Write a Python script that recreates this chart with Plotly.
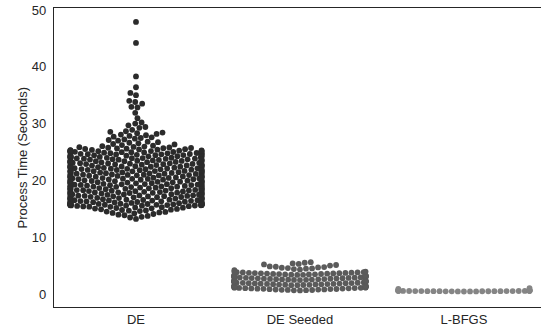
import numpy as np
import plotly.graph_objects as go

# ---------------- data ----------------
categories = ["DE", "DE Seeded", "L-BFGS"]

de_low_tail = [13.21, 13.47, 13.58, 13.74, 13.86, 13.97, 14.08, 14.19, 14.27, 14.36,
               14.44, 14.51, 14.59, 14.66, 14.72, 14.79, 14.85, 14.91, 14.97, 15.03,
               15.08, 15.14, 15.19, 15.24, 15.29, 15.34, 15.38, 15.42, 15.46, 15.5]

de_core = [
    15.55, 15.57, 15.58, 15.6, 15.61, 15.63, 15.64, 15.66, 15.67, 15.69, 15.7, 15.71, 15.73, 15.74,
    15.76, 15.77, 15.79, 15.8, 15.82, 15.84, 15.85, 15.87, 15.89, 15.9, 15.92, 15.94, 15.96, 15.98,
    16.01, 16.04, 16.06, 16.09, 16.12, 16.15, 16.17, 16.2, 16.24, 16.27, 16.29, 16.32, 16.36, 16.38,
    16.41, 16.44, 16.47, 16.5, 16.52, 16.55, 16.59, 16.61, 16.64, 16.68, 16.7, 16.73, 16.76, 16.79,
    16.82, 16.85, 16.88, 16.91, 16.93, 16.96, 16.99,
    17.02, 17.05, 17.08, 17.1, 17.13, 17.17, 17.19, 17.22, 17.26, 17.28, 17.31, 17.35, 17.37, 17.4,
    17.43, 17.46, 17.49, 17.52, 17.54, 17.58, 17.61, 17.63, 17.66, 17.7, 17.72, 17.75, 17.78, 17.81,
    17.84, 17.87, 17.9, 17.92, 17.95, 17.98,
    18.01, 18.03, 18.06, 18.1, 18.12, 18.15, 18.18, 18.21, 18.24, 18.27, 18.3, 18.33, 18.35, 18.39,
    18.42, 18.44, 18.47, 18.51, 18.53, 18.56, 18.6, 18.62, 18.65, 18.68, 18.71, 18.74, 18.77, 18.8,
    18.83, 18.86, 18.89, 18.91, 18.94, 18.97,
    19.0, 19.03, 19.07, 19.09, 19.12, 19.16, 19.18, 19.21, 19.25, 19.27, 19.3, 19.34, 19.36, 19.39,
    19.42, 19.45, 19.48, 19.5, 19.54, 19.57, 19.59, 19.62, 19.66, 19.69, 19.71, 19.74, 19.78, 19.8,
    19.83, 19.86, 19.89, 19.92, 19.95, 19.98,
    20.02, 20.05, 20.07, 20.11, 20.13, 20.16, 20.2, 20.22, 20.25, 20.28, 20.31, 20.34, 20.37, 20.4,
    20.43, 20.46, 20.48, 20.52, 20.55, 20.57, 20.61, 20.64, 20.66, 20.69, 20.73, 20.75, 20.78, 20.82,
    20.84, 20.87, 20.9, 20.93, 20.96, 20.99,
    21.01, 21.04, 21.08, 21.1, 21.14, 21.17, 21.19, 21.23, 21.26, 21.28, 21.32, 21.35, 21.37, 21.41,
    21.44, 21.46, 21.5, 21.53, 21.55, 21.59, 21.62, 21.64, 21.67, 21.71, 21.73, 21.76, 21.8, 21.83,
    21.85, 21.88, 21.91, 21.94, 21.97,
    22.0, 22.03, 22.06, 22.09, 22.12, 22.15, 22.18, 22.22, 22.24, 22.27, 22.31, 22.33, 22.36, 22.4,
    22.42, 22.45, 22.49, 22.51, 22.54, 22.58, 22.6, 22.63, 22.67, 22.69, 22.72, 22.76, 22.78, 22.81,
    22.85, 22.87, 22.9, 22.94, 22.97,
    23.01, 23.03, 23.07, 23.1, 23.12, 23.16, 23.19, 23.21, 23.25, 23.28, 23.3, 23.34, 23.37, 23.39,
    23.43, 23.46, 23.48, 23.52, 23.55, 23.57, 23.61, 23.64, 23.66, 23.7, 23.73, 23.75, 23.79, 23.82,
    23.84, 23.88, 23.91, 23.93, 23.97, 23.99,
    24.02, 24.04, 24.08, 24.1, 24.14, 24.16, 24.2, 24.23, 24.25, 24.29, 24.31, 24.35, 24.37, 24.41,
    24.44, 24.46, 24.5, 24.52, 24.56, 24.59, 24.61, 24.65, 24.67, 24.71, 24.74, 24.76, 24.8, 24.82,
    24.86, 24.88, 24.92, 24.95, 24.97,
    25.0, 25.03, 25.05, 25.08, 25.11, 25.13, 25.16, 25.19, 25.21, 25.24, 25.27, 25.3, 25.33, 25.36, 25.4,
]

de_high_tail = [25.45, 25.5, 25.53, 25.58, 25.62, 25.66, 25.7, 25.75, 25.79, 25.84, 25.9, 25.95,
                26.02, 26.12, 26.21, 26.33, 26.41, 26.52, 26.63, 26.72, 26.81,
                27.0, 27.11, 27.22, 27.35, 27.46, 27.58, 27.7,
                27.82, 27.95, 28.06, 28.18, 28.3, 28.42,
                28.55, 28.65, 28.9, 29.25, 29.4, 29.7, 30.0, 30.2, 30.95, 31.9, 32.85, 32.95,
                33.5, 33.8, 34.0, 35.0, 35.4, 36.4, 38.3, 44.2, 47.9]

seeded_core = [0.62, 0.65, 0.67, 0.7, 0.72, 0.74, 0.77, 0.79, 0.81, 0.84, 0.86, 0.88, 0.91, 0.93,
               0.95, 0.98, 1.0, 1.02, 1.05, 1.07, 1.09, 1.12, 1.14, 1.16, 1.19, 1.21, 1.23, 1.26,
               1.28, 1.3, 1.33, 1.35, 1.37, 1.4, 1.42, 1.44, 1.47, 1.49, 1.51, 1.54, 1.56, 1.58,
               1.61, 1.63, 1.65, 1.68, 1.7, 1.72, 1.75, 1.77, 1.79, 1.82, 1.84, 1.86, 1.89, 1.91,
               1.93, 1.96, 1.98, 2.0, 2.03, 2.05, 2.07, 2.1, 2.12, 2.14, 2.17, 2.19, 2.21, 2.24,
               2.26, 2.28, 2.31, 2.33, 2.35, 2.38, 2.4, 2.42, 2.45, 2.47, 2.49, 2.52, 2.54, 2.56,
               2.59, 2.61, 2.63, 2.66, 2.68, 2.7, 2.73, 2.75, 2.77, 2.8, 2.82, 2.84, 2.87, 2.89,
               2.91, 2.94, 2.96, 2.98, 3.01, 3.03, 3.05, 3.08, 3.1, 3.12, 3.15, 3.17, 3.19, 3.22,
               3.24, 3.26, 3.29, 3.31, 3.33, 3.36, 3.38, 3.4, 3.43, 3.45, 3.47, 3.5, 3.52, 3.54,
               3.57, 3.59, 3.61, 3.64, 3.66, 3.68, 3.71, 3.73, 3.75, 3.78, 3.8, 3.83, 3.86, 3.9, 3.95]
seeded_top = [4.2, 4.3, 4.38, 4.45, 4.5, 4.56, 4.62, 4.68, 4.74, 4.8, 4.86,
              5.0, 5.1, 5.2, 5.3, 5.38, 5.5, 5.6]

lbfgs = [0.44, 0.45, 0.46, 0.46, 0.47, 0.47, 0.48, 0.48, 0.49, 0.49, 0.5, 0.5, 0.5, 0.51,
         0.51, 0.52, 0.52, 0.53, 0.53, 0.54, 0.54, 0.55, 0.55, 0.56, 0.57, 0.58, 0.59, 0.6,
         0.62, 0.65, 0.7, 0.78, 0.9, 1.05]

series = [de_low_tail + de_core + de_high_tail, seeded_core + seeded_top, lbfgs]
colors = ["#2b2b2b", "#5b5b5b", "#858585"]
y_ticks = [0, 10, 20, 30, 40, 50]

# ---------------- layout geometry ----------------
W, H = 541, 326
ML, MR, MT, MB = 54, 0, 8, 19
XR = [-0.5, 2.47]
YR = [-2.29, 50.35]
MARKER = 5.8

pw = W - ML - MR
ph = H - MT - MB
sx = pw / (XR[1] - XR[0])
sy = ph / (YR[1] - YR[0])


def swarm(values, r, half_width):
    vals = np.sort(np.asarray(values, dtype=float))
    ys = vals * sy
    placed_x = [0.0]
    placed_y = [ys[0]]
    for y in ys[1:]:
        nx, ny = [], []
        for xj, yj in zip(reversed(placed_x), reversed(placed_y)):
            if y - yj < 2 * r:
                nx.append(xj)
                ny.append(yj)
            else:
                break
        cands = [0.0]
        left_first = True
        for xj, yj in zip(nx, ny):
            dy = y - yj
            dx = np.sqrt(max(4 * r * r - dy * dy, 0.0)) * 1.05
            if left_first:
                cands += [xj - dx, xj + dx]
            else:
                cands += [xj + dx, xj - dx]
            left_first = not left_first
        cands = sorted(cands, key=abs)
        chosen = cands[0]
        if nx:
            ax = np.array(nx)
            ay = np.array(ny)
            for c in cands:
                if np.all((ax - c) ** 2 + (ay - y) ** 2 >= 4 * r * r - 1e-9):
                    chosen = c
                    break
        placed_x.append(chosen)
        placed_y.append(y)
    offs = np.clip(np.array(placed_x), -half_width, half_width)
    return vals, offs


fig = go.Figure()
for i, (cat, vals) in enumerate(zip(categories, series)):
    v, off = swarm(vals, MARKER / 2, 0.4 * sx)
    fig.add_trace(go.Scatter(
        x=i + off / sx, y=v, mode="markers", name=cat,
        marker=dict(size=MARKER, color=colors[i], line=dict(width=0)),
        hoverinfo="skip", showlegend=False,
    ))

font = dict(family="Liberation Sans, Arial, sans-serif", size=13, color="#262626")
fig.update_layout(
    width=W, height=H,
    margin=dict(l=ML, r=MR, t=MT, b=MB, pad=0),
    paper_bgcolor="white", plot_bgcolor="white",
    font=font,
    xaxis=dict(range=XR, tickmode="array", tickvals=list(range(len(categories))),
               ticktext=categories, showgrid=False, zeroline=False,
               showline=True, mirror=True, linecolor="#262626", linewidth=1.25,
               ticks="", automargin=False, fixedrange=True),
    yaxis=dict(range=YR, tickmode="array", tickvals=y_ticks,
               showgrid=False, zeroline=False,
               showline=True, linecolor="#262626", linewidth=1.25,
               ticks="outside", ticklen=4, tickcolor="rgba(0,0,0,0)",
               automargin=False, fixedrange=True),
    annotations=[dict(text="Process Time (Seconds)", xref="paper", yref="paper",
                      x=0, y=0.5, xshift=-32, xanchor="center", yanchor="middle",
                      textangle=-90, showarrow=False, font=font)],
)

fig.write_html(
    "out.html",
    config={"displayModeBar": False, "staticPlot": True},
    post_script=("document.documentElement.style.margin='0';"
                 "document.documentElement.style.overflow='hidden';"
                 "document.body.style.margin='0';"
                 "document.body.style.overflow='hidden';"),
)
